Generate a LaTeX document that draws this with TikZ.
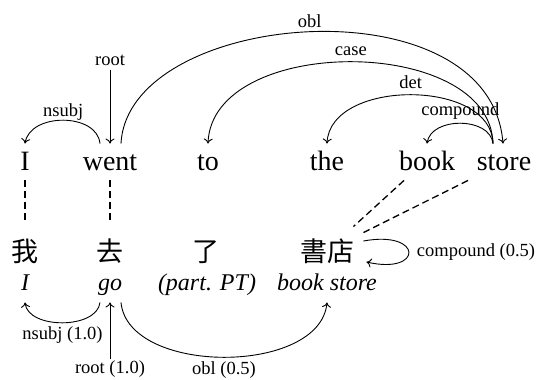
\documentclass[tikz,border=0pt]{standalone}
\usepackage{fontspec}
\setmainfont{Liberation Serif}
\newfontfamily\cjk{Noto Sans CJK TC}
\usetikzlibrary{arrows.meta}
\begin{document}
\begin{tikzpicture}[x=1pt,y=-1pt,
  every path/.style={line width=0.9pt},
  arr/.style={-{Computer Modern Rightarrow[length=5pt,width=9pt]}},
  word/.style={font=\fontsize{28}{30}\selectfont, text height=20pt, text depth=4pt, inner xsep=0pt, inner ysep=6pt, anchor=base},
  zh/.style={font=\cjk\fontsize{27}{29}\selectfont, text height=22pt, text depth=2pt, inner xsep=2pt, inner ysep=16pt, anchor=base},
  gloss/.style={font=\fontsize{24}{26}\selectfont\itshape, text height=17pt, text depth=5pt, inner xsep=0pt, inner ysep=7pt, anchor=base},
  lab/.style={font=\fontsize{18.5}{20}\selectfont, inner sep=1pt},
  toplab/.style={lab, midway, anchor=base, yshift=6pt},
  botlab/.style={lab, midway, anchor=base, yshift=-17pt},
  align/.style={dashed, dash pattern=on 7pt off 4pt, line width=1.3pt}
]
\useasboundingbox (0,0) rectangle (536,380);
% English words
\node[word] (I) at (25,170) {I};
\node[word] (went) at (110,170) {went};
\node[word] (to) at (208,170) {to};
\node[word] (the) at (327,170) {the};
\node[word] (book) at (427,170) {book};
\node[word] (store) at (504,170) {store};
% Chinese words
\node[zh] (z1) at (25,261) {我};
\node[zh] (z2) at (110,261) {去};
\node[zh] (z3) at (206,261) {了};
\node[zh] (z4) at (327,261) {書店};
% glosses
\node[gloss] (g1) at (25,290) {I};
\node[gloss] (g2) at (110,290) {go};
\node[gloss] (g3) at (207,290) {(part. PT)};
\node[gloss] (g4) at (327,290) {book store};
% root labels
\node[lab, anchor=base] (rl1) at (110,65) {root};
\node[lab, anchor=base] (rl2) at (110,373) {root (1.0)};
\node[lab, anchor=base] (cl) at (476,256) {compound (0.5)};
% top arcs
\draw[arr] ([yshift=-3pt]rl1.south) -- (went.north);
\draw[arr] ([xshift=-10pt]went.north) .. controls +(-3,-31) and +(5,-31) .. (I.north)
  node[toplab, yshift=-2pt] {nsubj};
\draw[arr] ([xshift=11pt]went.north) .. controls +(7,-134) and +(-13,-164) .. ([xshift=-1pt]store.north)
  node[toplab, yshift=-2pt] {obl};
\draw[arr] ([xshift=-11pt]store.north) .. controls +(-3,-109) and +(4,-109) .. (to.north)
  node[toplab] {case};
\draw[arr] ([xshift=-11pt]store.north) .. controls +(-1,-65) and +(3,-65) .. (the.north)
  node[toplab] {det};
\draw[arr] ([xshift=-11pt]store.north) .. controls +(-3,-27) and +(4,-27) .. (book.north)
  node[toplab, yshift=2pt] {compound};
% alignment
\draw[align] (I.south) -- (z1.north);
\draw[align] (went.south) -- (z2.north);
\draw[align] ([xshift=-23pt]book.south) -- ([xshift=-3pt,yshift=-4pt]z4.north east);
\draw[align] ([xshift=-36pt]store.south) -- ([xshift=7pt,yshift=-10pt]z4.north east);
% self loop
\draw[arr] ([xshift=7pt,yshift=10pt]z4.east) .. controls +(60,-11) and +(57,13) .. ([xshift=10pt,yshift=-11pt]z4.east);
% bottom arcs
\draw[arr] (rl2.north) -- (g2.south);
\draw[arr] ([xshift=-10pt]g2.south) .. controls +(-3,27) and +(3,27) .. (g1.south)
  node[botlab] {nsubj (1.0)};
\draw[arr] ([xshift=11pt]g2.south) .. controls +(7,73) and +(-7,73) .. (g4.south)
  node[botlab] {obl (0.5)};
\end{tikzpicture}
\end{document}
